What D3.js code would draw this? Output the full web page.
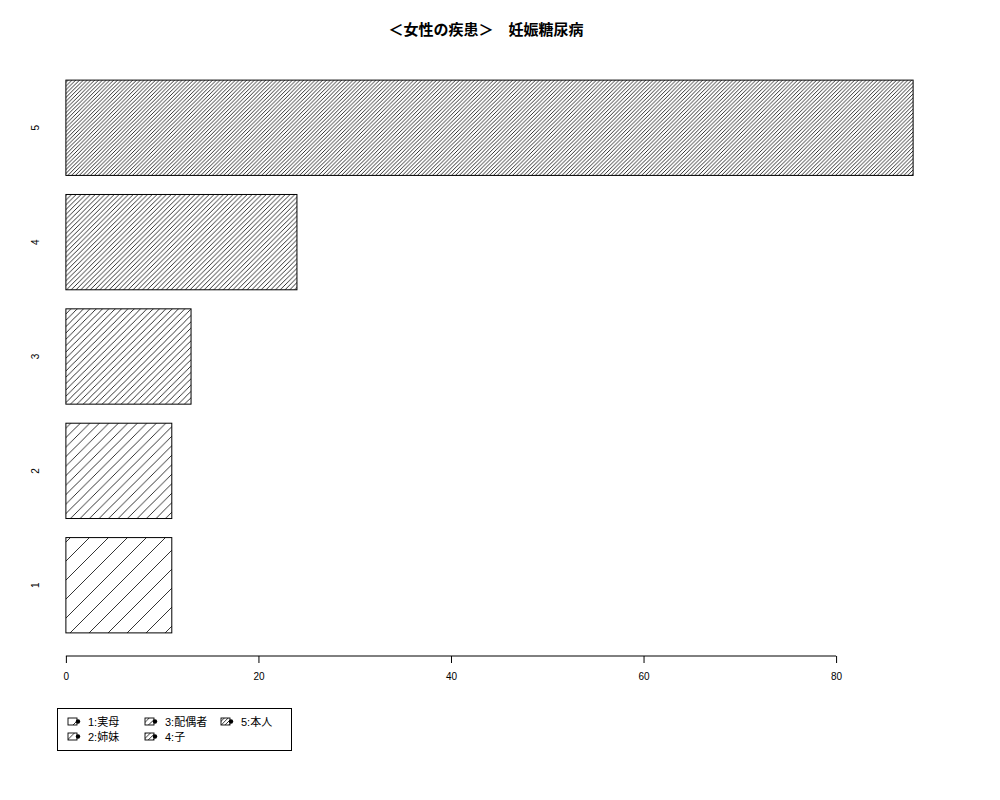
<!DOCTYPE html>
<html>
<head>
<meta charset="utf-8">
<script src="https://cdn.jsdelivr.net/npm/d3@7"></script>
<style>
  body { margin: 0; background: #fff; }
  text { font-family: "Liberation Sans", "Noto Sans CJK JP", sans-serif; fill: #000; }
</style>
</head>
<body>
<div id="plot"></div>
<script>
// data
var categories = ['1', '2', '3', '4', '5'];
var values = [11, 11, 13, 24, 88];
var legendLabels = ['1:実母', '2:姉妹', '3:配偶者', '4:子', '5:本人'];
var xTicks = [0, 20, 40, 60, 80];
var title = '＜女性の疾患＞　妊娠糖尿病';

// hatch spacing per bar (horizontal px between lines)
var hatch = [19, 9.5, 6.33, 4.75, 3.8];

var width = 1000, height = 800;
var plotBox = {l: 32, r: 947, t: 58, b: 655};

var svg = d3.select('#plot')
  .append('svg')
  .attr('width', width)
  .attr('height', height);

var defs = svg.append('defs');
hatch.forEach(function (w, i) {
  var p = defs.append('pattern')
    .attr('id', 'hatch' + i)
    .attr('patternUnits', 'userSpaceOnUse')
    .attr('width', w)
    .attr('height', w);
  p.append('rect').attr('width', w).attr('height', w).attr('fill', '#fff');
  p.append('path')
    .attr('d', 'M0,' + w + 'L' + w + ',0M' + (-w / 2) + ',' + (w / 2) + 'L' + (w / 2) + ',' + (-w / 2) +
      'M' + (w / 2) + ',' + (w * 1.5) + 'L' + (w * 1.5) + ',' + (w / 2))
    .attr('stroke', '#000')
    .attr('stroke-width', 0.8);
});

// R style 4% extension of ranges
var xmax = d3.max(values);
var x = d3.scaleLinear()
  .domain([-0.04 * xmax, xmax * 1.04])
  .range([plotBox.l, plotBox.r]);

var n = categories.length;
var ylo = 0.2, yhi = 1.2 * n;
var yext = (yhi - ylo) * 0.04;
var y = d3.scaleLinear()
  .domain([ylo - yext, yhi + yext])
  .range([plotBox.b, plotBox.t]);

var bars = svg.append('g');
values.forEach(function (v, i) {
  var y0 = 0.2 + 1.2 * i, y1 = y0 + 1;
  bars.append('rect')
    .attr('x', x(0))
    .attr('y', y(y1))
    .attr('width', x(v) - x(0))
    .attr('height', y(y0) - y(y1))
    .attr('fill', 'url(#hatch' + i + ')')
    .attr('stroke', '#000')
    .attr('stroke-width', 1);
  svg.append('text')
    .attr('transform', 'translate(39,' + y((y0 + y1) / 2) + ') rotate(-90)')
    .attr('text-anchor', 'middle')
    .style('font-size', '10px')
    .text(categories[i]);
});

// x axis
var axisG = svg.append('g')
  .attr('transform', 'translate(0,' + (plotBox.b + 1) + ')')
  .call(d3.axisBottom(x).tickValues(xTicks).tickSize(7).tickPadding(10));
axisG.select('.domain').remove();
axisG.append('line')
  .attr('x1', x(xTicks[0])).attr('x2', x(xTicks[xTicks.length - 1]))
  .attr('stroke', '#000');
axisG.selectAll('text')
  .style('font-size', '10px')
  .style('font-family', '"Liberation Sans", sans-serif');

// title
svg.append('text')
  .attr('x', 486)
  .attr('y', 35)
  .attr('text-anchor', 'middle')
  .style('font-size', '15px')
  .style('font-weight', 'bold')
  .text(title);

// legend
var leg = svg.append('g');
leg.append('rect')
  .attr('x', 57.5).attr('y', 708.5)
  .attr('width', 234).attr('height', 42)
  .attr('fill', '#fff')
  .attr('stroke', '#000');
var colX = [68, 145, 221];
legendLabels.forEach(function (lab, i) {
  var cx = colX[Math.floor(i / 2)];
  var cy = 722 + (i % 2) * 15;
  leg.append('rect')
    .attr('x', cx).attr('y', cy - 4)
    .attr('width', 9).attr('height', 7)
    .attr('fill', 'url(#hatch' + i + ')')
    .attr('stroke', '#000')
    .attr('stroke-width', 0.9);
  leg.append('circle')
    .attr('cx', cx + 10).attr('cy', cy - 0.5)
    .attr('r', 2.2)
    .attr('fill', '#000');
  leg.append('text')
    .attr('x', cx + 20)
    .attr('y', cy + 4)
    .style('font-size', '11px')
    .text(lab);
});
</script>
</body>
</html>
